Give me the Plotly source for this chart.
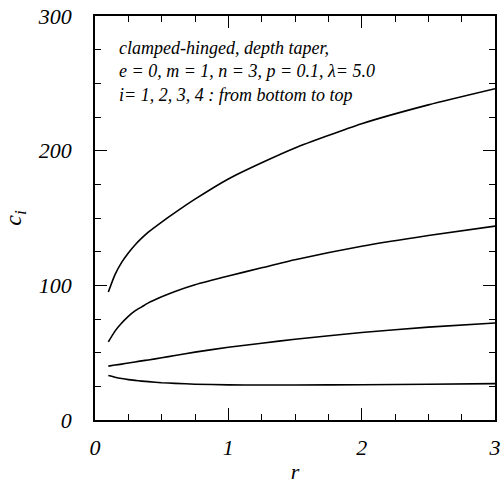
import plotly.graph_objects as go

r_vals = [0.1, 0.15, 0.2, 0.25, 0.3, 0.35, 0.4, 0.5, 0.6, 0.75, 1.0, 1.25, 1.5, 2.0, 2.5, 3.0]
c1 = [33, 31.8, 30.8, 30.0, 29.4, 28.9, 28.5, 27.7, 27.2, 26.6, 26.1, 26, 26, 26.2, 26.5, 27]
c2 = [40, 40.8, 41.5, 42.3, 43.1, 43.9, 44.6, 46.2, 47.9, 50.4, 54, 57, 60, 65, 69, 72]
c3 = [58, 66, 72, 77, 81, 84, 87, 91.5, 95.5, 100.5, 107, 113, 119, 129, 137, 144]
c4 = [95, 108, 117, 124, 130, 135, 139.5, 147, 154, 164, 179, 191, 202, 220, 234, 246]

x_ticks = [0, 1, 2, 3]
y_ticks = [0, 100, 200, 300]

FONT = "Liberation Serif"

fig = go.Figure()
for c in [c1, c2, c3, c4]:
    fig.add_trace(go.Scatter(x=r_vals, y=c, mode="lines",
                             line=dict(color="black", width=1.6, shape="spline", smoothing=0.6),
                             showlegend=False, hoverinfo="skip", cliponaxis=False))

axis_common = dict(
    showgrid=False, zeroline=False, showline=True, linecolor="black", linewidth=1.5,
    mirror="ticks", ticks="inside", tickcolor="black", tickwidth=1.2, automargin=False,
    ticklabeloverflow="allow",
    tickfont=dict(family=FONT, size=22, color="black", style="italic"),
)

fig.update_xaxes(range=[0, 3], tickvals=x_ticks, ticktext=[f"<i>{v}</i>" for v in x_ticks], ticklen=12,
                 minor=dict(ticks="inside", dtick=0.25, ticklen=6, tickcolor="black", tickwidth=1.2),
                 title=dict(text="<i>r</i>", font=dict(family=FONT, size=22, color="black", style="italic"), standoff=4),
                 ticklabelstandoff=7, **axis_common)
fig.update_yaxes(range=[0, 300], tickvals=y_ticks, ticktext=[f"<i>{v}</i>" for v in y_ticks], ticklen=12,
                 minor=dict(ticks="inside", dtick=25, ticklen=6, tickcolor="black", tickwidth=1.2),
                 title=dict(text="<i>c<sub>i</sub></i>", font=dict(family=FONT, size=24, color="black", style="italic"), standoff=20),
                 ticklabelstandoff=17, **axis_common)

fig.add_annotation(
    xref="paper", yref="paper", x=0.055, y=0.95, xanchor="left", yanchor="top", showarrow=False, align="left",
    text="<i>clamped-hinged, depth taper,<br>e = 0, m = 1, n = 3, p = 0.1, λ= 5.0<br>i= 1, 2, 3, 4 : from bottom to top</i>",
    font=dict(family=FONT, size=18, color="black", style="italic"),
)

fig.update_layout(width=503, height=488, margin=dict(l=95, r=8, t=16, b=68),
                  paper_bgcolor="white", plot_bgcolor="white")

# Remove the browser's default 8px body margin so the figure fills the window exactly.
fig.write_html("out.html", config={"displayModeBar": False},
               post_script="document.body.style.margin='0';")
